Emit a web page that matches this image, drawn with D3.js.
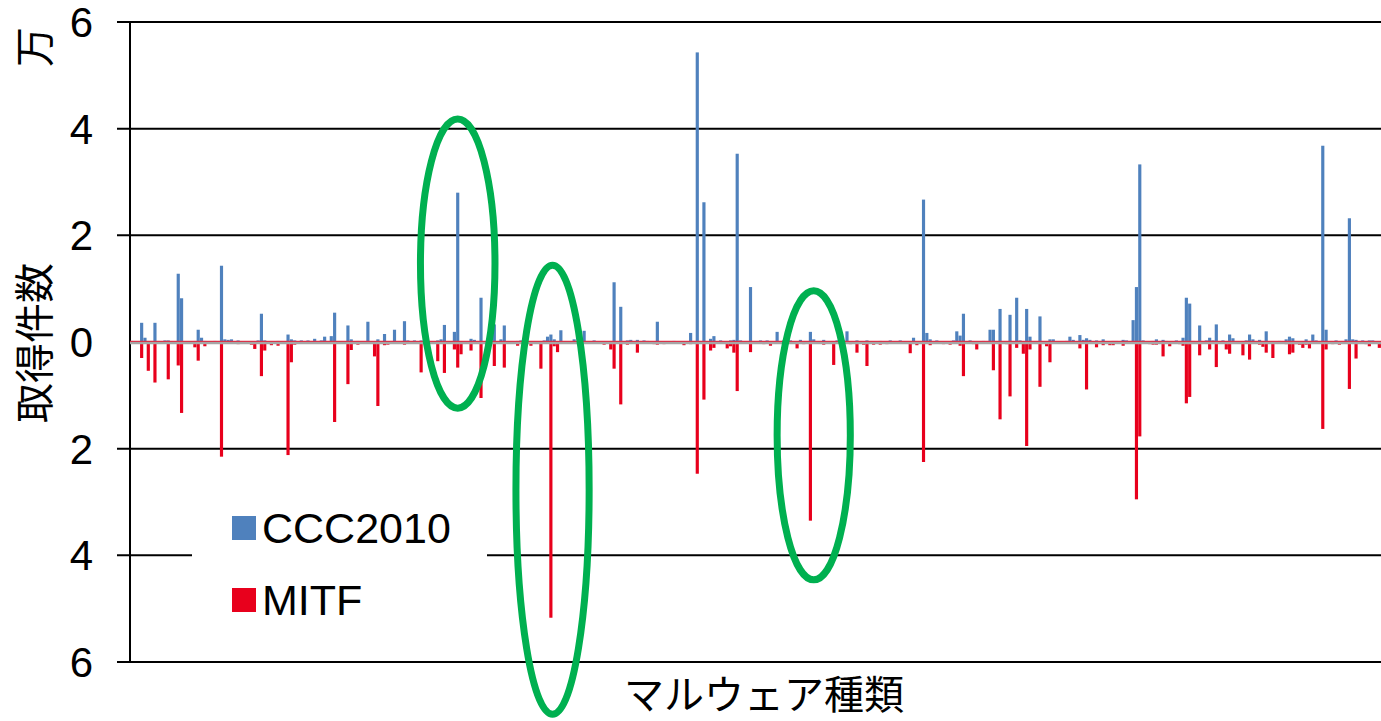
<!DOCTYPE html>
<html>
<head>
<meta charset="utf-8">
<script src="https://cdn.jsdelivr.net/npm/d3@7"></script>
<style>
  body { margin: 0; background: #fff; }
  text { font-family: "Liberation Sans", Arial, "Noto Sans CJK JP", sans-serif; fill: #000; }
  .jp { font-family: "Noto Sans CJK JP", sans-serif; }
</style>
</head>
<body>
<div id="chart"></div>
<script>
// values in 万 (x10,000) per malware type
const ccc2010 = [
  0.02,0,0,0.36,0.08,0.02,0.02,0.36,0.02,0,0.03,0.03,0,0,1.28,0.82,0,0,0.01,0.02,
  0.23,0.08,0.02,0,0,0.02,0,1.43,0.05,0.04,0.05,0,0.03,0,0,0.01,0,0,0.03,0.53,
  0.03,0,0,0,0.02,0,0,0.14,0.05,0.03,0,0.03,0,0.03,0,0.06,0,0.03,0.10,0,
  0.11,0.55,0,0,0,0.31,0.05,0,0.02,0,0,0.38,0,0,0.05,0,0.15,0,0,0.23,
  0,0,0.39,0.03,0,0.03,0,0.03,0,0,0,0,0.03,0.05,0.32,0,0,0.19,2.80,0,
  0,0,0.06,0.04,0,0.83,0,0,0,0.33,0,0.05,0.31,0,0,0,0.02,0.03,0,0,
  0,0,0,0,0.03,0.10,0.14,0.05,0,0.22,0,0,0,0.05,0,0,0.21,0,0,0.03,
  0,0,0,0,0,1.12,0,0.66,0,0.03,0.04,0,0.04,0,0.03,0.02,0,0,0.38,0,
  0,0,0,0.02,0,0,0,0,0.17,0,5.43,0,2.62,0,0.06,0.11,0,0.03,0,0,
  0.03,0.04,3.53,0.03,0,0,1.03,0,0,0.03,0,0.03,0,0,0.19,0,0.03,0,0.03,0,
  0,0.04,0,0,0.19,0.05,0,0,0.04,0,0,0,0.03,0,0,0.20,0,0,0.03,0,
  0,0.03,0,0,0,0.02,0,0,0.03,0,0,0.03,0,0,0,0.08,0,0,2.67,0.17,
  0.05,0,0.03,0,0,0,0,0.03,0.20,0.12,0.53,0,0.03,0,0,0,0.02,0,0.23,0.23,
  0,0.62,0,0,0.51,0,0.83,0.03,0,0.62,0.10,0,0,0.48,0,0,0.05,0.05,0,0,
  0,0.02,0.10,0.04,0,0.13,0.04,0.07,0.04,0,0.03,0,0.05,0,0,0.02,0.02,0,0.04,0.03,
  0,0.41,1.03,3.33,0.03,0,0,0.02,0.05,0,0.04,0.02,0,0,0.03,0,0.08,0.83,0.72,0.02,
  0,0.31,0,0.03,0.08,0.03,0.33,0,0.03,0,0.14,0.07,0,0,0,0.03,0.14,0.05,0,0.04,
  0,0.20,0,0,0,0.02,0,0.05,0.10,0.07,0,0,0,0.05,0,0.14,0.03,0,3.68,0.23,
  0,0,0.03,0,0,0.05,2.32,0.05,0.04,0,0.03,0,0.03,0.03,0,0
];

const mitf = [
  0,0.02,0.03,0.30,0.03,0.54,0,0.76,0.02,0,0.01,0.70,0,0.03,0.44,1.33,0.03,0,0,0.10,
  0.35,0.02,0.08,0,0.02,0,0,2.15,0.02,0,0.01,0,0.04,0.02,0,0,0.05,0.13,0,0.64,
  0.16,0.02,0.06,0,0.07,0,0.01,2.12,0.38,0.05,0,0.03,0,0.01,0,0.02,0,0,0.01,0,
  0,1.50,0.03,0,0,0.79,0.15,0,0.05,0,0.01,0.02,0,0.27,1.20,0,0.06,0.05,0,0.02,
  0,0.01,0.05,0,0.03,0,0,0.57,0,0,0.03,0,0.36,0,0.58,0.02,0,0.14,0.48,0.23,
  0,0,0.16,0,0,1.05,0.02,0,0,0.45,0,0,0.48,0,0.01,0,0.07,0,0,0,
  0.07,0,0.01,0.50,0,0,5.17,0.08,0.19,0,0,0,0,0,0,0.01,0,0,0,0,
  0,0,0.05,0,0.14,0.50,0,1.17,0,0.05,0,0,0.20,0,0,0,0,0.04,0.05,0,
  0.04,0,0,0,0,0,0.06,0,0.04,0,2.47,0,1.08,0,0.16,0.11,0,0,0,0.12,
  0.08,0.20,0.92,0,0,0,0.19,0.03,0,0,0.04,0,0.07,0,0,0,0,0,0.02,0,
  0.12,0,0.04,0,3.35,0,0,0,0.05,0,0,0.43,0,0,0,0,0.04,0,0.20,0,
  0.05,0.45,0,0.05,0,0.05,0,0.04,0,0,0,0,0,0,0.21,0,0.06,0,2.25,0,
  0.06,0,0,0,0.04,0,0.05,0,0,0.07,0.64,0,0,0.04,0.14,0,0,0,0,0.53,
  0,1.45,0,0.04,1.02,0,0.11,0,0.22,1.95,0.14,0.03,0,0.84,0,0.08,0.38,0,0,0.03,
  0,0,0,0,0,0.12,0,0.89,0,0,0.10,0,0.06,0,0.06,0.06,0,0,0.07,0,
  0,0,2.95,1.77,0,0,0.04,0.05,0.05,0,0.27,0,0.08,0,0,0.04,0.07,1.15,1.03,0,
  0,0.25,0,0,0.14,0,0.47,0,0,0.14,0.22,0,0.03,0,0.25,0,0.33,0,0,0.05,
  0.09,0.20,0,0.30,0,0,0,0.04,0.23,0.20,0.04,0.05,0.11,0.05,0.12,0,0,0,1.63,0.14,
  0,0.04,0,0.05,0,0,0.88,0,0.31,0,0,0.04,0.08,0,0,0.11
];

const categories = ccc2010.map((d, i) => i);
const yTicks = [-6, -4, -2, 0, 2, 4, 6];
const seriesNames = ["CCC2010", "MITF"];
const seriesColors = ["#4f81bd", "#e8001c"];

// green highlight rings: centre category, top and bottom value, half width in categories
const ringCenters = [98, 126.5, 205];
const ringTops = [4.18, 1.44, 0.96];
const ringBottoms = [-1.24, -6.98, -4.46];
const ringHalfWidths = [11.2, 11, 11];

const width = 1381, height = 721;
const margin = {top: 22, right: 0, bottom: 59, left: 130};

const svg = d3.select("#chart")
    .append("svg")
    .attr("width", width)
    .attr("height", height);

const x = d3.scaleBand()
    .domain(categories)
    .range([margin.left, width - margin.right])
    .paddingInner(0);

const y = d3.scaleLinear()
    .domain([-6, 6])
    .range([height - margin.bottom, margin.top]);

const bw = x.bandwidth();
const barW = bw * 0.95;

// gridlines (the zero line is drawn later as the category axis)
svg.append("g")
    .selectAll("line")
    .data(yTicks.filter(d => d !== 0))
    .enter().append("line")
    .attr("x1", 117)
    .attr("x2", width)
    .attr("y1", d => y(d))
    .attr("y2", d => y(d))
    .attr("stroke", "#000")
    .attr("stroke-width", 2);

// value axis line
svg.append("line")
    .attr("x1", margin.left)
    .attr("x2", margin.left)
    .attr("y1", y(6))
    .attr("y2", y(-6))
    .attr("stroke", "#000")
    .attr("stroke-width", 2);

// tick labels, shown as absolute values
svg.append("g")
    .selectAll("text")
    .data(yTicks)
    .enter().append("text")
    .attr("x", 93)
    .attr("y", d => y(d))
    .attr("dy", "0.36em")
    .attr("text-anchor", "end")
    .style("font-size", "42px")
    .text(d => Math.abs(d));

// CCC2010 bars, upward
svg.append("g")
    .selectAll("rect")
    .data(ccc2010.map((v, i) => ({i, v})).filter(d => d.v > 0))
    .enter().append("rect")
    .attr("x", d => x(d.i) + (bw - barW) / 2)
    .attr("y", d => y(d.v))
    .attr("width", barW)
    .attr("height", d => y(0) - y(d.v))
    .attr("fill", seriesColors[0]);

// MITF bars, downward
svg.append("g")
    .selectAll("rect")
    .data(mitf.map((v, i) => ({i, v})).filter(d => d.v > 0))
    .enter().append("rect")
    .attr("x", d => x(d.i) + (bw - barW) / 2)
    .attr("y", y(0))
    .attr("width", barW)
    .attr("height", d => y(-d.v) - y(0))
    .attr("fill", seriesColors[1]);

// category axis at zero
svg.append("line")
    .attr("x1", margin.left)
    .attr("x2", width)
    .attr("y1", y(0) + 1)
    .attr("y2", y(0) + 1)
    .attr("stroke", "#a6a6a6")
    .attr("stroke-width", 2.5);
svg.append("line")
    .attr("x1", margin.left)
    .attr("x2", width)
    .attr("y1", y(0) - 0.6)
    .attr("y2", y(0) - 0.6)
    .attr("stroke", "#d9344a")
    .attr("stroke-width", 1.2);

// legend
const legend = svg.append("g");
legend.append("rect")
    .attr("x", 192)
    .attr("y", 495)
    .attr("width", 295)
    .attr("height", 137)
    .attr("fill", "#fff");

seriesNames.forEach((name, k) => {
    legend.append("rect")
        .attr("x", 232)
        .attr("y", 516 + k * 72)
        .attr("width", 24)
        .attr("height", 24)
        .attr("fill", seriesColors[k]);
    legend.append("text")
        .attr("x", 262)
        .attr("y", 528 + k * 72)
        .attr("dy", "0.36em")
        .style("font-size", "43px")
        .text(name);
});

// highlight rings
svg.append("g")
    .selectAll("ellipse")
    .data(ringCenters.map((c, k) => ({c, top: ringTops[k], bottom: ringBottoms[k], hw: ringHalfWidths[k]})))
    .enter().append("ellipse")
    .attr("cx", d => x(0) + (d.c + 0.5) * bw)
    .attr("cy", d => (y(d.top) + y(d.bottom)) / 2)
    .attr("rx", d => d.hw * bw)
    .attr("ry", d => (y(d.bottom) - y(d.top)) / 2)
    .attr("fill", "none")
    .attr("stroke", "#00b050")
    .attr("stroke-width", 7);

// axis titles
svg.append("text")
    .attr("class", "jp")
    .attr("transform", "translate(35,47) rotate(-90)")
    .attr("text-anchor", "middle")
    .attr("dy", "0.36em")
    .style("font-size", "40px")
    .text("万");

svg.append("text")
    .attr("class", "jp")
    .attr("transform", "translate(35,343) rotate(-90)")
    .attr("text-anchor", "middle")
    .attr("dy", "0.36em")
    .style("font-size", "40px")
    .text("取得件数");

svg.append("text")
    .attr("class", "jp")
    .attr("x", 764)
    .attr("y", 695)
    .attr("text-anchor", "middle")
    .attr("dy", "0.36em")
    .style("font-size", "40px")
    .text("マルウェア種類");
</script>
</body>
</html>
